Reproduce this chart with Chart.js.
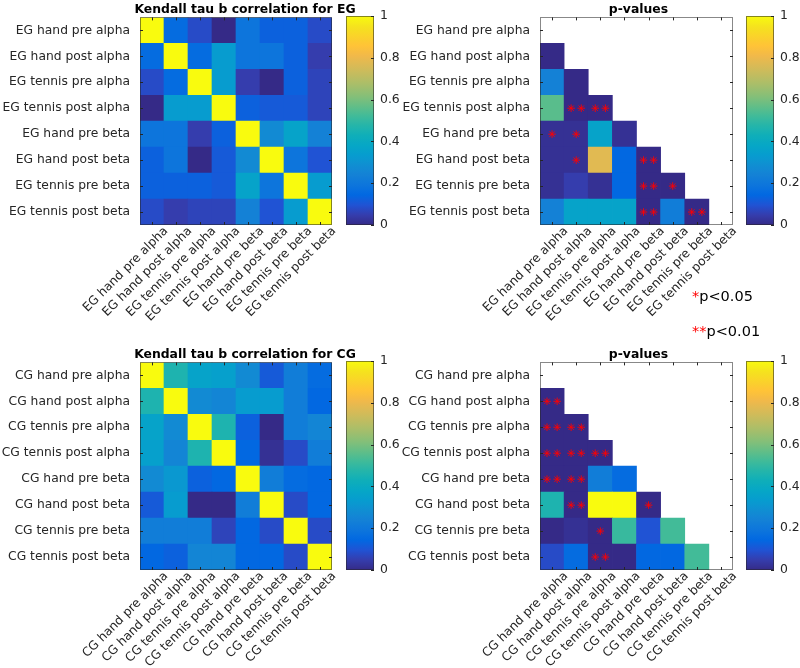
<!DOCTYPE html>
<html><head><meta charset="utf-8">
<script src="https://cdn.jsdelivr.net/npm/chart.js@4.4.1/dist/chart.umd.min.js"></script>
<style>
html,body{margin:0;padding:0;background:#fff;}
#wrap{position:relative;width:800px;height:668px;overflow:hidden;font-family:"DejaVu Sans",Verdana,sans-serif;}
canvas{position:absolute;}
.leg{position:absolute;font-size:14.5px;line-height:1;color:#000;white-space:nowrap;}
.leg span{color:#ff0000;}
</style></head><body>
<div id="wrap">
<canvas id="egTau" width="400" height="330" style="left:0;top:0"></canvas>
<canvas id="egTauCb" width="68" height="330" style="left:346px;top:0"></canvas>
<canvas id="egP" width="341" height="330" style="left:400px;top:0"></canvas>
<canvas id="egPCb" width="54" height="330" style="left:746px;top:0"></canvas>
<canvas id="cgTau" width="400" height="323" style="left:0;top:345px"></canvas>
<canvas id="cgTauCb" width="68" height="323" style="left:346px;top:345px"></canvas>
<canvas id="cgP" width="341" height="323" style="left:400px;top:345px"></canvas>
<canvas id="cgPCb" width="54" height="323" style="left:746px;top:345px"></canvas>
<div class="leg" style="left:692px;top:289px"><span>*</span>p&lt;0.05</div>
<div class="leg" style="left:692px;top:324px"><span>**</span>p&lt;0.01</div>
</div>
<script>
// ---------- data ----------
const egLabels = ['EG hand pre alpha','EG hand post alpha','EG tennis pre alpha','EG tennis post alpha',
  'EG hand pre beta','EG hand post beta','EG tennis pre beta','EG tennis post beta'];
const cgLabels = ['CG hand pre alpha','CG hand post alpha','CG tennis pre alpha','CG tennis post alpha',
  'CG hand pre beta','CG hand post beta','CG tennis pre beta','CG tennis post beta'];

// Kendall tau b (rows top->bottom, columns left->right)
const egTau = [
  [1.00, 0.17, 0.08, 0.00, 0.20, 0.13, 0.13, 0.08],
  [0.17, 1.00, 0.17, 0.33, 0.20, 0.20, 0.13, 0.05],
  [0.08, 0.17, 1.00, 0.33, 0.06, 0.00, 0.14, 0.065],
  [0.00, 0.33, 0.33, 1.00, 0.13, 0.11, 0.12, 0.065],
  [0.20, 0.20, 0.06, 0.13, 1.00, 0.28, 0.37, 0.24],
  [0.13, 0.20, 0.00, 0.11, 0.28, 1.00, 0.20, 0.095],
  [0.13, 0.13, 0.14, 0.12, 0.37, 0.20, 1.00, 0.33],
  [0.08, 0.05, 0.065, 0.065, 0.24, 0.095, 0.33, 1.00]
];
const cgTau = [
  [1.00, 0.46, 0.36, 0.35, 0.27, 0.11, 0.23, 0.16],
  [0.46, 1.00, 0.28, 0.25, 0.33, 0.33, 0.23, 0.15],
  [0.36, 0.28, 1.00, 0.46, 0.14, 0.01, 0.23, 0.26],
  [0.35, 0.25, 0.46, 1.00, 0.15, 0.03, 0.08, 0.23],
  [0.27, 0.32, 0.14, 0.15, 1.00, 0.23, 0.16, 0.15],
  [0.11, 0.33, 0.00, 0.01, 0.23, 1.00, 0.09, 0.15],
  [0.22, 0.22, 0.22, 0.07, 0.15, 0.09, 1.00, 0.09],
  [0.15, 0.13, 0.26, 0.25, 0.15, 0.15, 0.09, 1.00]
];
// p-values, lower triangle only (row r holds columns 0..r-1)
const egP = [
  [],
  [0.01],
  [0.24, 0.01],
  [0.55, 0.00, 0.00],
  [0.02, 0.02, 0.37, 0.03],
  [0.02, 0.02, 0.78, 0.15, 0.00],
  [0.03, 0.05, 0.02, 0.15, 0.00, 0.01],
  [0.24, 0.37, 0.37, 0.37, 0.00, 0.22, 0.00]
];
const cgP = [
  [],
  [0.00],
  [0.00, 0.00],
  [0.00, 0.00, 0.00],
  [0.00, 0.00, 0.23, 0.16],
  [0.46, 0.00, 0.99, 0.99, 0.01],
  [0.01, 0.03, 0.01, 0.50, 0.10, 0.52],
  [0.08, 0.16, 0.00, 0.01, 0.15, 0.15, 0.52]
];
// significance markers: 1 = p<0.05, 2 = p<0.01
const egSig = [
  [], [0], [0,0], [0,2,2], [1,1,0,0], [0,1,0,0,2], [0,0,0,0,2,1], [0,0,0,0,2,0,2]
];
const cgSig = [
  [], [2], [2,2], [2,2,2], [2,2,0,0], [0,2,0,0,1], [0,0,1,0,0,0], [0,0,2,0,0,0,0]
];
const colorTicks = [0, 0.2, 0.4, 0.6, 0.8, 1];
const cRange = [0, 1];

// ---------- parula colormap ----------
const parulaAnchors = [
 [0.2081,0.1663,0.5292],[0.2081,0.2386,0.6771],[0.1253,0.3242,0.8303],[0.0060,0.4086,0.8828],
 [0.0498,0.4586,0.8641],[0.0779,0.5040,0.8384],[0.0641,0.5570,0.8240],[0.0265,0.6137,0.8135],
 [0.0228,0.6535,0.7768],[0.0590,0.6838,0.7254],[0.1453,0.7098,0.6646],[0.2586,0.7317,0.5954],
 [0.3953,0.7459,0.5244],[0.5300,0.7491,0.4661],[0.6473,0.7456,0.4188],[0.7525,0.7384,0.3768],
 [0.8507,0.7299,0.3360],[0.9450,0.7261,0.2886],[0.9990,0.7653,0.2164],[0.9789,0.8271,0.1633],
 [0.9589,0.8949,0.1132],[0.9763,0.9831,0.0538]
];
function parulaIdx(idx) {
  const pos = idx / 3, i0 = Math.min(Math.floor(pos), parulaAnchors.length - 2), f = pos - i0;
  const a = parulaAnchors[i0], b = parulaAnchors[i0 + 1];
  const c = a.map((v, k) => Math.round((v + (b[k] - v) * f) * 255));
  return 'rgb(' + c.join(',') + ')';
}
function colorFor(v, cmin, cmax) {
  const t = (v - cmin) / (cmax - cmin);
  const idx = Math.max(0, Math.min(63, Math.floor(t * 64)));
  return parulaIdx(idx);
}

const FONT = '"DejaVu Sans", Verdana, sans-serif';
const AXC = '#262626';

const frame = {
  id: 'frame',
  afterDatasetsDraw(chart) {
    const {ctx, chartArea: a, scales} = chart;
    const L = 3;
    ctx.save();
    ctx.strokeStyle = AXC; ctx.lineWidth = 1;
    ctx.beginPath();
    scales.x.ticks.forEach(t => {
      const px = Math.round(scales.x.getPixelForValue(t.value)) + 0.5;
      ctx.moveTo(px, a.top); ctx.lineTo(px, a.top + L);
      ctx.moveTo(px, a.bottom); ctx.lineTo(px, a.bottom - L);
    });
    scales.y.ticks.forEach(t => {
      const py = Math.round(scales.y.getPixelForValue(t.value)) + 0.5;
      ctx.moveTo(a.left, py); ctx.lineTo(a.left + L, py);
      ctx.moveTo(a.right, py); ctx.lineTo(a.right - L, py);
    });
    ctx.stroke();
    ctx.strokeStyle = 'rgba(38,38,38,0.55)';
    ctx.strokeRect(Math.round(a.left) + 0.5, Math.round(a.top) + 0.5, Math.round(a.width) - 1, Math.round(a.height) - 1);
    ctx.restore();
  }
};

const hmTitle = {
  id: 'hmTitle',
  afterDraw(chart, args, opts) {
    const {ctx, chartArea: a} = chart;
    ctx.save();
    ctx.fillStyle = '#000';
    ctx.font = 'bold 12.4px ' + FONT;
    ctx.textAlign = 'center';
    ctx.textBaseline = 'middle';
    ctx.fillText(opts.text, (a.left + a.right) / 2 + (opts.dx || 0), a.top - 8);
    ctx.restore();
  }
};

function heatmap(id, labels, matrix, sig, title, titleDx, xh, padRight) {
  const cells = [];
  matrix.forEach((row, r) => row.forEach((v, c) => {
    if (v !== null && v !== undefined) cells.push({x: c + 0.5, y: [r, r + 1], v: v});
  }));
  const stars = [];
  (sig || []).forEach((row, r) => row.forEach((n, c) => {
    if (n === 1) stars.push({x: c + 0.5, y: r + 0.5});
    if (n === 2) { stars.push({x: c + 0.29, y: r + 0.5}); stars.push({x: c + 0.71, y: r + 0.5}); }
  }));
  const tickSetter = s => { s.ticks = labels.map((_, i) => ({value: i + 0.5})); };
  const labelFor = v => labels[Math.floor(v)];
  new Chart(document.getElementById(id), {
    type: 'bar',
    data: { datasets: [
      { type: 'scatter', data: stars, order: 0,
        pointStyle: 'star', pointRadius: 3.8, pointBorderColor: '#ff0000',
        pointBackgroundColor: 'rgba(0,0,0,0)', pointBorderWidth: 0.9 },
      { data: cells, backgroundColor: ctx => ctx.raw ? colorFor(ctx.raw.v, cRange[0], cRange[1]) : 'rgba(0,0,0,0)',
        borderWidth: 0, barPercentage: 1, categoryPercentage: 1, order: 1 }
    ]},
    options: {
      responsive: false, animation: false, events: [],
      layout: { padding: { left: 0, right: padRight, top: 16, bottom: 0 } },
      plugins: {
        legend: { display: false }, tooltip: { enabled: false }, title: { display: false },
        hmTitle: { text: title, dx: titleDx }
      },
      scales: {
        x: { type: 'linear', min: 0, max: 8, offset: false,
          grid: { display: false, drawTicks: false, tickLength: 0 }, border: { display: false },
          afterBuildTicks: tickSetter,
          ticks: { autoSkip: false, minRotation: 45, maxRotation: 45, labelOffset: 14, padding: -1,
            color: AXC, font: { family: FONT, size: 12.3 }, callback: labelFor },
          afterFit: s => { s.height = xh; } },
        y: { type: 'linear', min: 0, max: 8, reverse: true,
          grid: { display: false, drawTicks: false, tickLength: 0 }, border: { display: false },
          afterBuildTicks: tickSetter,
          ticks: { autoSkip: false, padding: 10, color: AXC, font: { family: FONT, size: 12.3 }, callback: labelFor },
          afterFit: s => { s.width = 140; } }
      }
    },
    plugins: [frame, hmTitle]
  });
}

const cbFrame = {
  id: 'cbFrame',
  afterDatasetsDraw(chart) {
    const {ctx, chartArea: a, scales} = chart;
    ctx.save();
    ctx.strokeStyle = AXC; ctx.lineWidth = 1;
    ctx.beginPath();
    scales.y.ticks.forEach(t => {
      const py = Math.round(scales.y.getPixelForValue(t.value)) + 0.5;
      ctx.moveTo(a.right, py); ctx.lineTo(a.right - 3, py);
    });
    ctx.stroke();
    ctx.strokeStyle = 'rgba(38,38,38,0.55)';
    ctx.strokeRect(Math.round(a.left) + 0.5, Math.round(a.top) + 0.5, Math.round(a.width) - 1, Math.round(a.height) - 1);
    ctx.restore();
  }
};

function colorbar(id, padTop, padBottom, axisW) {
  new Chart(document.getElementById(id), {
    type: 'bar',
    data: { labels: [''], datasets: [{
      data: [[cRange[0], cRange[1]]],
      backgroundColor: ctx => {
        const ch = ctx.chart, y = ch.scales && ch.scales.y;
        const y0 = y ? y.getPixelForValue(cRange[0]) : NaN, y1 = y ? y.getPixelForValue(cRange[1]) : NaN;
        if (!isFinite(y0) || !isFinite(y1) || y0 === y1) return parulaIdx(32);
        const g = ch.ctx.createLinearGradient(0, y0, 0, y1);
        for (let i = 0; i < 64; i++) g.addColorStop(i / 63, parulaIdx(i));
        return g;
      },
      borderWidth: 0, barPercentage: 1, categoryPercentage: 1 }] },
    options: {
      responsive: false, animation: false, events: [],
      layout: { padding: { left: 0, right: 0, top: padTop, bottom: padBottom } },
      plugins: { legend: { display: false }, tooltip: { enabled: false } },
      scales: {
        x: { display: false },
        y: { position: 'right', min: cRange[0], max: cRange[1],
          grid: { display: false, drawTicks: false, tickLength: 0 }, border: { display: false },
          afterBuildTicks: s => { s.ticks = colorTicks.map(v => ({value: v})); },
          ticks: { padding: 6, color: AXC, font: { family: FONT, size: 12.4 },
            callback: v => String(Math.round(v * 10) / 10) },
          afterFit: s => { s.width = axisW; } }
      }
    },
    plugins: [cbFrame]
  });
}

heatmap('egTau', egLabels, egTau, null, 'Kendall tau b correlation for EG', 9, 105, 68);
heatmap('egP', egLabels, egP, egSig, 'p-values', 2, 105, 8);
heatmap('cgTau', cgLabels, cgTau, null, 'Kendall tau b correlation for CG', 9, 98, 68);
heatmap('cgP', cgLabels, cgP, cgSig, 'p-values', 2, 98, 8);
colorbar('egTauCb', 16, 105, 40);
colorbar('egPCb', 16, 105, 26);
colorbar('cgTauCb', 16, 98, 40);
colorbar('cgPCb', 16, 98, 26);
</script>
</body></html>
